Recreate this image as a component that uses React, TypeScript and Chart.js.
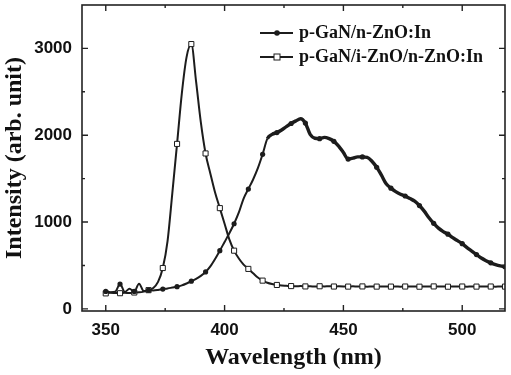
import React, { useEffect, useRef } from 'react';
import { Chart, registerables } from 'chart.js';

Chart.register(...registerables);

// Wavelength (nm)
const wavelengths = [
  350, 352, 354, 356, 358, 360, 362, 364, 366, 368,
  370, 372, 374, 376, 378, 380, 382, 384, 386, 388,
  390, 392, 394, 396, 398, 400, 402, 404, 406, 408,
  410, 412, 414, 416, 418, 420, 422, 424, 426, 428,
  430, 432, 434, 436, 438, 440, 442, 444, 446, 448,
  450, 452, 454, 456, 458, 460, 462, 464, 466, 468,
  470, 472, 474, 476, 478, 480, 482, 484, 486, 488,
  490, 492, 494, 496, 498, 500, 502, 504, 506, 508,
  510, 512, 514, 516, 518,
];

// p-GaN/n-ZnO:In
const seriesNZnO = [
  200, 192, 198, 285, 195, 230, 200, 290, 205, 215,
  212, 218, 228, 235, 245, 255, 270, 292, 318, 345,
  380, 425, 490, 575, 670, 770, 870, 980, 1110, 1270,
  1380, 1490, 1620, 1780, 1960, 2010, 2030, 2060, 2100, 2135,
  2165, 2190, 2140, 2010, 1965, 1960, 1975, 1960, 1930, 1875,
  1800, 1725, 1735, 1750, 1750, 1745, 1700, 1630, 1540, 1440,
  1390, 1350, 1320, 1300, 1270, 1240, 1190, 1125, 1050, 985,
  930, 890, 860, 820, 785, 750, 705, 665, 625, 585,
  555, 530, 510, 495, 485,
];

// p-GaN/i-ZnO/n-ZnO:In
const seriesIZnO = [
  178, 185, 182, 180, 185, 182, 188, 190, 198, 215,
  240, 310, 470, 780, 1330, 1900, 2480, 2900, 3050, 2620,
  2150, 1790, 1560, 1340, 1160, 980, 800, 670, 580, 510,
  460, 410, 360, 325, 300, 285, 275, 268, 265, 262,
  260, 262, 258, 260, 257, 260, 258, 261, 257, 259,
  258, 256, 259, 257, 258, 255, 258, 256, 258, 257,
  256, 258, 255, 257, 256, 258, 255, 257, 256, 258,
  256, 257, 255, 258, 256, 257, 255, 257, 256, 258,
  256, 257, 255, 257, 256,
];

const seriesLabels = ['p-GaN/n-ZnO:In', 'p-GaN/i-ZnO/n-ZnO:In'];

const xMajorTicks = [350, 400, 450, 500];
const xMinorTicks = [375, 425, 475];
const yMajorTicks = [0, 1000, 2000, 3000];
const yMinorTicks = [500, 1500, 2500];

const LINE = '#1c1c1c';

const framePlugin = {
  id: 'frameTicksLegend',
  afterDatasetsDraw(chart: any) {
    const { ctx, chartArea, scales } = chart;
    const { left, right, top, bottom } = chartArea;
    ctx.save();
    ctx.strokeStyle = '#222';
    ctx.lineWidth = 1.6;
    ctx.strokeRect(left, top, right - left, bottom - top);
    ctx.lineWidth = 1.4;
    const drawX = (vals: number[], len: number) => {
      vals.forEach((v) => {
        const p = scales.x.getPixelForValue(v);
        ctx.beginPath();
        ctx.moveTo(p, bottom);
        ctx.lineTo(p, bottom - len);
        ctx.moveTo(p, top);
        ctx.lineTo(p, top + len);
        ctx.stroke();
      });
    };
    const drawY = (vals: number[], len: number) => {
      vals.forEach((v) => {
        const p = scales.y.getPixelForValue(v);
        ctx.beginPath();
        ctx.moveTo(left, p);
        ctx.lineTo(left + len, p);
        ctx.moveTo(right, p);
        ctx.lineTo(right - len, p);
        ctx.stroke();
      });
    };
    drawX(xMajorTicks, 6);
    drawX(xMinorTicks, 3);
    drawY(yMajorTicks, 6);
    drawY(yMinorTicks, 3);

    // legend
    chart.data.datasets.forEach((ds: any, i: number) => {
      const y = 33 + 24 * i;
      ctx.strokeStyle = LINE;
      ctx.lineWidth = 2;
      ctx.beginPath();
      ctx.moveTo(260, y);
      ctx.lineTo(293, y);
      ctx.stroke();
      if (i === 0) {
        ctx.fillStyle = LINE;
        ctx.beginPath();
        ctx.arc(277, y, 2.8, 0, Math.PI * 2);
        ctx.fill();
      } else {
        ctx.fillStyle = '#fff';
        ctx.lineWidth = 1;
        ctx.fillRect(274, y - 3, 6, 6);
        ctx.strokeRect(274, y - 3, 6, 6);
      }
      ctx.fillStyle = '#111';
      ctx.font = 'bold 18px "Liberation Serif"';
      ctx.textBaseline = 'middle';
      ctx.textAlign = 'left';
      ctx.fillText(ds.label, 299, y);
    });
    ctx.restore();
  },
};

export default function App() {
  const ref = useRef<HTMLCanvasElement>(null);

  useEffect(() => {
    document.body.style.margin = '0';
    const canvas = ref.current;
    if (!canvas) return;
    const markerEvery = (ctx: any, r: number) => (ctx.dataIndex % 3 === 0 ? r : 0);
    const chart = new Chart(canvas, {
      type: 'line',
      data: {
        datasets: [
          {
            label: seriesLabels[0],
            data: wavelengths.map((x, i) => ({ x, y: seriesNZnO[i] })),
            borderColor: LINE,
            backgroundColor: LINE,
            borderWidth: 2,
            cubicInterpolationMode: 'monotone',
            pointStyle: 'circle',
            pointRadius: (c: any) => markerEvery(c, 2.6),
            pointBorderWidth: 0,
            pointBackgroundColor: LINE,
            segment: {
              borderWidth: (c: any) => (c.p0.parsed.x >= 418 ? 3.4 : 2),
            },
          } as any,
          {
            label: seriesLabels[1],
            data: wavelengths.map((x, i) => ({ x, y: seriesIZnO[i] })),
            borderColor: LINE,
            backgroundColor: '#fff',
            borderWidth: 2,
            cubicInterpolationMode: 'monotone',
            pointStyle: 'rect',
            pointRadius: (c: any) => markerEvery(c, 3.6),
            pointBorderWidth: 1,
            pointBorderColor: LINE,
            pointBackgroundColor: '#fff',
          } as any,
        ],
      },
      options: {
        responsive: false,
        devicePixelRatio: 1,
        animation: false,
        layout: { padding: { top: 4, right: 6, left: 0, bottom: 0 } },
        plugins: {
          legend: { display: false },
          tooltip: { enabled: false },
        },
        scales: {
          x: {
            type: 'linear',
            position: 'bottom',
            min: 340,
            max: 518,
            afterFit: (s: any) => {
              s.height = 64;
              s.paddingLeft = 0;
              s.paddingRight = 0;
            },
            afterBuildTicks: (s: any) => {
              s.ticks = xMajorTicks.map((v) => ({ value: v }));
            },
            grid: { display: false, drawTicks: false },
            border: { display: false },
            ticks: {
              color: '#111',
              padding: 9,
              maxRotation: 0,
              autoSkip: false,
              callback: (v: any) => String(v),
              font: { family: '"Liberation Sans", Arial, sans-serif', size: 17, weight: 'bold' },
            },
            title: {
              display: true,
              text: 'Wavelength (nm)',
              color: '#111',
              padding: { top: 0, bottom: 3 },
              font: { family: '"Liberation Serif", serif', size: 24, weight: 'bold' },
            },
          },
          y: {
            type: 'linear',
            min: -25,
            max: 3500,
            afterFit: (s: any) => {
              s.width = 82;
              s.paddingTop = 0;
              s.paddingBottom = 0;
            },
            afterBuildTicks: (s: any) => {
              s.ticks = yMajorTicks.map((v) => ({ value: v }));
            },
            grid: { display: false, drawTicks: false },
            border: { display: false },
            ticks: {
              color: '#111',
              padding: 10,
              autoSkip: false,
              callback: (v: any) => String(v),
              font: { family: '"Liberation Sans", Arial, sans-serif', size: 17, weight: 'bold' },
            },
            title: {
              display: true,
              text: 'Intensity (arb. unit)',
              color: '#111',
              padding: { top: 0, bottom: 0 },
              font: { family: '"Liberation Serif", serif', size: 24, weight: 'bold' },
            },
          },
        },
      } as any,
      plugins: [framePlugin],
    });
    return () => chart.destroy();
  }, []);

  return (
    <div style={{ position: 'absolute', left: 0, top: 0, width: 511, height: 375, background: '#fff' }}>
      <canvas ref={ref} width={511} height={375} style={{ display: 'block', width: 511, height: 375 }} />
    </div>
  );
}
